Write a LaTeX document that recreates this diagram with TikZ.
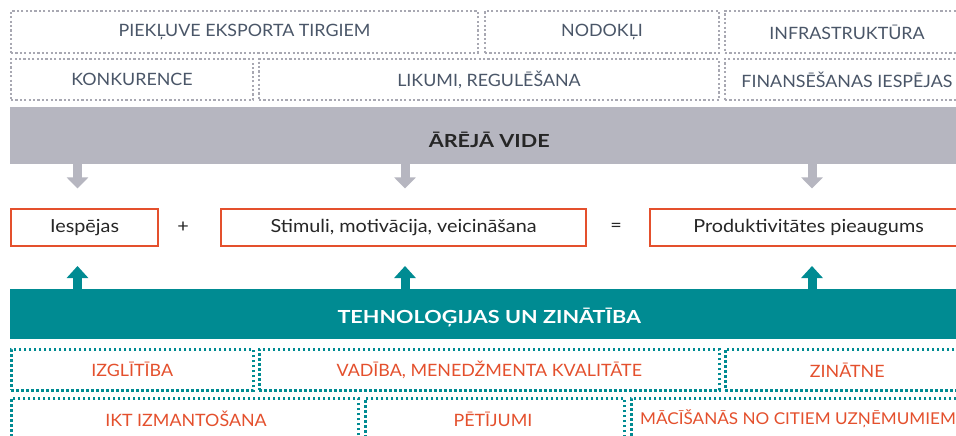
\documentclass[tikz,border=0pt]{standalone}
\usepackage{fontspec}
\setmainfont{Lato}
\newfontfamily\capsf[FakeStretch=1.05]{Lato}
\newfontfamily\lowf[FakeStretch=1.1]{Lato}
\newfontfamily\headf[FakeStretch=1.2]{Lato}
\usetikzlibrary{arrows.meta}
\definecolor{envgray}{HTML}{B6B6C0}
\definecolor{dotgray}{HTML}{A8A8B2}
\definecolor{teal2}{HTML}{008B92}
\definecolor{orng}{HTML}{E4502D}
\definecolor{slate}{HTML}{4A5668}
\definecolor{ink}{HTML}{262626}
\begin{document}
\begin{tikzpicture}[x=1pt,y=-1pt,
  txt/.style={font=\capsf\fontsize{17}{19}\selectfont},
  graybox/.style={draw=dotgray, line width=2pt, dash pattern=on 2.2pt off 2.2pt,
    anchor=north west, inner sep=0pt, text=slate, txt},
  tealbox/.style={draw=teal2, line width=2.6pt, dash pattern=on 2.6pt off 2.4pt,
    anchor=north west, inner sep=0pt, text=orng, txt},
  obox/.style={draw=orng, line width=2.2pt, anchor=north west, inner sep=0pt,
    text=ink, font=\lowf\fontsize{18}{20}\selectfont},
  bar/.style={anchor=north west, inner sep=0pt, text depth=0pt, font=\headf\bfseries\fontsize{18}{20}\selectfont},
  garrow/.style={draw=envgray, line width=9pt, -{Triangle[width=21pt,length=11pt]}},
  tarrow/.style={draw=teal2, line width=9pt, -{Triangle[width=21pt,length=12pt]}},
  op/.style={text=ink, font=\lowf\fontsize{18}{20}\selectfont}
]
\useasboundingbox (0,0) rectangle (956,436);
\clip (0,0) rectangle (956,436);
\fill[white] (0,0) rectangle (956,436);
% external environment rows
\node[graybox, minimum width=467pt, minimum height=42pt] (t1) at (10,10) {PIEKĻUVE EKSPORTA TIRGIEM};
\node[graybox, minimum width=234pt, minimum height=42pt] (t2) at (484,10) {NODOKĻI};
\node[graybox, minimum width=244pt, minimum height=42pt] (t3) at (724,10) {INFRASTRUKTŪRA};
\node[graybox, minimum width=242pt, minimum height=41pt] (t4) at (10,58) {KONKURENCE};
\node[graybox, minimum width=460pt, minimum height=41pt] (t5) at (258,58) {LIKUMI, REGULĒŠANA};
\node[graybox, minimum width=244pt, minimum height=41pt] (t6) at (724,58) {FINANSĒŠANAS IESPĒJAS};
% gray bar
\node[bar, fill=envgray, text=ink, text height=24pt, minimum width=958pt, minimum height=57pt] (vide) at (10,107) {ĀRĒJĀ VIDE};
% middle boxes
\node[obox, minimum width=147pt, minimum height=37pt] (o1) at (10,208) {Iespējas};
\node[obox, minimum width=365pt, minimum height=37pt] (o2) at (220,208) {Stimuli, motivācija, veicināšana};
\node[obox, minimum width=317pt, minimum height=37pt] (o3) at (649,208) {Produktivitātes pieaugums};
\node[op] (plus) at (183,227) {+};
\node[op] (eq) at (616,227) {=};
% teal bar
\node[bar, fill=teal2, text=white, text height=18pt, minimum width=958pt, minimum height=50pt] (tech) at (10,289) {TEHNOLOĢIJAS UN ZINĀTĪBA};
% arrow positions
\coordinate (a1) at (77.5,0);
\coordinate (a2) at (405,0);
\coordinate (a3) at (812,0);
\foreach \a in {a1,a2,a3}{
  \draw[garrow] (vide.south -| \a) -- ++(0,24);
  \draw[tarrow] (tech.north -| \a) -- ++(0,-23);
}
% technology rows
\node[tealbox, minimum width=242pt, minimum height=41pt] (b1) at (10,348) {IZGLĪTĪBA};
\node[tealbox, minimum width=460pt, minimum height=41pt] (b2) at (258,348) {VADĪBA, MENEDŽMENTA KVALITĀTE};
\node[tealbox, minimum width=244pt, minimum height=41pt] (b3) at (724,348) {ZINĀTNE};
\node[tealbox, minimum width=347pt, minimum height=50pt] (b4) at (10,397) {};
\node[tealbox, minimum width=259pt, minimum height=50pt] (b5) at (364,397) {};
\node[tealbox, minimum width=340pt, minimum height=50pt] (b6) at (630,397) {};
\node[text=orng, txt] (l4) at (186,419) {IKT IZMANTOŠANA};
\node[text=orng, txt] (l5) at (493,419) {PĒTĪJUMI};
\node[text=orng, font=\capsf\fontsize{16.3}{18}\selectfont, anchor=west, inner sep=0pt] (l6) at (640,419) {MĀCĪŠANĀS NO CITIEM UZŅĒMUMIEM};
\end{tikzpicture}
\end{document}
